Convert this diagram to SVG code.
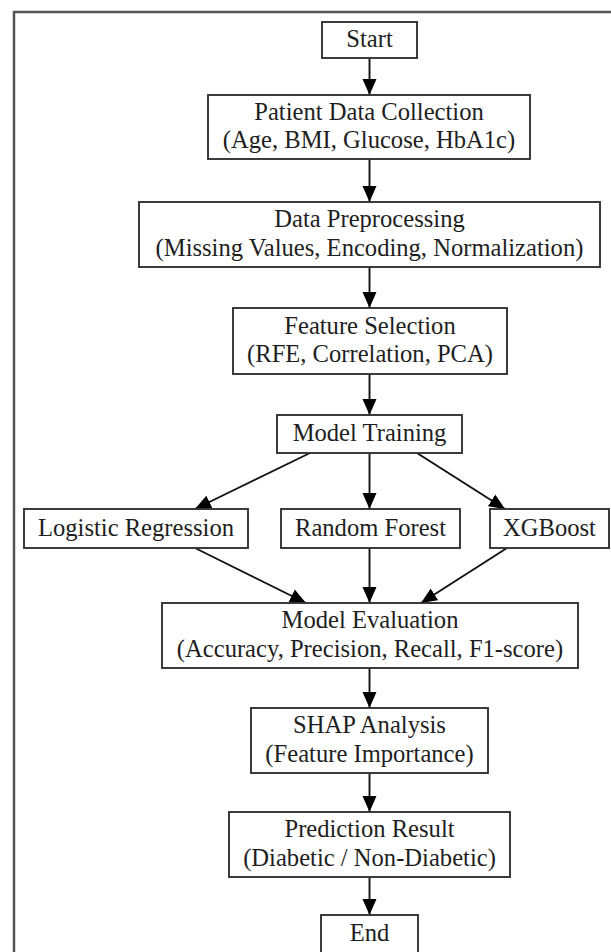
<svg xmlns="http://www.w3.org/2000/svg" width="611" height="952" viewBox="0 0 611 952">
  <style>
    .node rect { fill: #ffffff; stroke: #333333; stroke-width: 1.9; }
    .node text { font-family: "Liberation Serif", "Times New Roman", serif; font-size: 24.6px; fill: #1e1e1e; text-anchor: middle; }
    .edge { fill: none; stroke: #111111; stroke-width: 1.9; marker-end: url(#arrow); }
    .frame { fill: none; stroke: #555555; stroke-width: 2.5; }
  </style>
  <defs>
    <marker id="arrow" markerUnits="userSpaceOnUse" markerWidth="16" markerHeight="15" viewBox="0 0 16 15" refX="16" refY="7.5" orient="auto">
      <path d="M0,0.5 L16,7.5 L0,14.5 Z" fill="#000000"/>
    </marker>
  </defs>
  <rect width="611" height="952" fill="#ffffff"/>

  <!-- outer frame (open to the right and bottom) -->
  <path class="frame" d="M14,952 V12 H611"/>

  <!-- connectors -->
  <g id="edges">
    <path class="edge" d="M369.5,58 V95"/>
    <path class="edge" d="M369.5,159 V202"/>
    <path class="edge" d="M369.5,267 V308"/>
    <path class="edge" d="M369.5,374 V415"/>
    <path class="edge" d="M310,453 L195,509"/>
    <path class="edge" d="M369.5,453 V509"/>
    <path class="edge" d="M417,453 L505,509"/>
    <path class="edge" d="M195,548 L306,603"/>
    <path class="edge" d="M369.5,548 V603"/>
    <path class="edge" d="M507,548 L421,603"/>
    <path class="edge" d="M369.5,668 V708"/>
    <path class="edge" d="M369.5,773 V812"/>
    <path class="edge" d="M369.5,877 V915"/>
  </g>

  <g id="start" class="node">
    <rect x="322" y="22" width="95" height="36"/>
    <text x="369.5" y="47">Start</text>
  </g>
  <g id="data_collection" class="node">
    <rect x="208" y="95" width="322" height="64"/>
    <text x="369" y="119.5">Patient Data Collection</text>
    <text x="369" y="148">(Age, BMI, Glucose, HbA1c)</text>
  </g>
  <g id="preprocessing" class="node">
    <rect x="139" y="202" width="461" height="65"/>
    <text x="369.5" y="227">Data Preprocessing</text>
    <text x="369.5" y="255.5">(Missing Values, Encoding, Normalization)</text>
  </g>
  <g id="feature_selection" class="node">
    <rect x="233" y="308" width="274" height="66"/>
    <text x="370" y="333.5">Feature Selection</text>
    <text x="370" y="362">(RFE, Correlation, PCA)</text>
  </g>
  <g id="model_training" class="node">
    <rect x="277" y="415" width="185" height="38"/>
    <text x="369.5" y="441">Model Training</text>
  </g>
  <g id="logistic_regression" class="node">
    <rect x="24" y="509" width="224" height="39"/>
    <text x="136" y="535.5">Logistic Regression</text>
  </g>
  <g id="random_forest" class="node">
    <rect x="281" y="509" width="179" height="39"/>
    <text x="370.5" y="535.5">Random Forest</text>
  </g>
  <g id="xgboost" class="node">
    <rect x="490" y="509" width="119" height="39"/>
    <text x="549.5" y="535.5">XGBoost</text>
  </g>
  <g id="model_evaluation" class="node">
    <rect x="162" y="603" width="416" height="65"/>
    <text x="370" y="628">Model Evaluation</text>
    <text x="370" y="656.5">(Accuracy, Precision, Recall, F1-score)</text>
  </g>
  <g id="shap_analysis" class="node">
    <rect x="251" y="708" width="237" height="65"/>
    <text x="369.5" y="733">SHAP Analysis</text>
    <text x="369.5" y="761.5">(Feature Importance)</text>
  </g>
  <g id="prediction_result" class="node">
    <rect x="229" y="812" width="281" height="65"/>
    <text x="369.5" y="837">Prediction Result</text>
    <text x="369.5" y="865.5">(Diabetic / Non-Diabetic)</text>
  </g>
  <g id="end" class="node">
    <rect x="321" y="915" width="97" height="40"/>
    <text x="369.5" y="941">End</text>
  </g>
</svg>
